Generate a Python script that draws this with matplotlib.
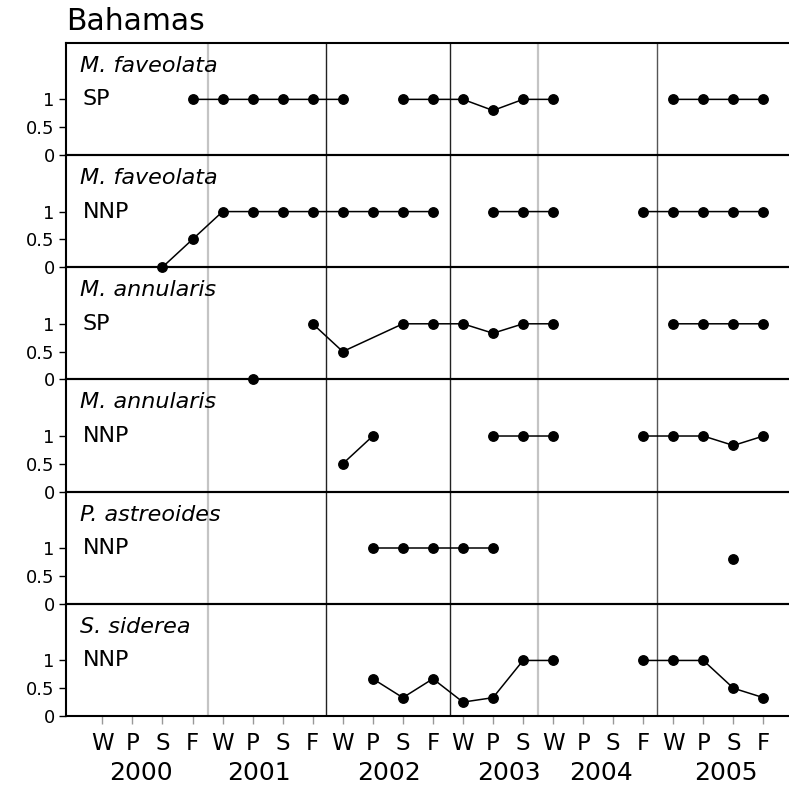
import numpy as np
import matplotlib
matplotlib.use("Agg")
import matplotlib.pyplot as plt

nan = np.nan

# Sampling seasons along the x axis (one tick per survey)
seasons = ["W", "P", "S", "F",
           "W", "P", "S", "F",
           "W", "P", "S", "F",
           "W", "P", "S",
           "W", "P", "S", "F",
           "W", "P", "S", "F"]
years = ["2000", "2001", "2002", "2003", "2004", "2005"]
year_pos = [1.29, 5.21, 9.54, 13.53, 16.6, 20.75]

species = ["M. faveolata", "M. faveolata", "M. annularis",
           "M. annularis", "P. astreoides", "S. siderea"]
groups = ["SP", "NNP", "SP", "NNP", "NNP", "NNP"]

fav_sp = [nan, nan, nan, 1, 1, 1, 1, 1, 1, nan, 1, 1, 1, 0.8, 1, 1,
          nan, nan, nan, 1, 1, 1, 1]
fav_nnp = [nan, nan, 0, 0.5, 1, 1, 1, 1, 1, 1, 1, 1, nan, 1, 1, 1,
           nan, nan, 1, 1, 1, 1, 1]
ann_sp = [nan, nan, nan, nan, nan, 0, nan, 1, 0.5, nan, 1, 1, 1, 0.83, 1, 1,
          nan, nan, nan, 1, 1, 1, 1]
ann_nnp = [nan, nan, nan, nan, nan, nan, nan, nan, 0.5, 1, nan, nan, nan, 1, 1, 1,
           nan, nan, 1, 1, 1, 0.83, 1]
ast_nnp = [nan, nan, nan, nan, nan, nan, nan, nan, nan, 1, 1, 1, 1, 1, nan, nan,
           nan, nan, nan, nan, nan, 0.8, nan]
sid_nnp = [nan, nan, nan, nan, nan, nan, nan, nan, nan, 0.67, 0.33, 0.67, 0.25, 0.33, 1, 1,
           nan, nan, 1, 1, 1, 0.5, 0.33]

panels = [fav_sp, fav_nnp, ann_sp, ann_nnp, ast_nnp, sid_nnp]
# missing surveys that the line is drawn across
bridged = [[], [], [9], [], [], []]

# year dividers: position, colour, width
dividers = [(3.53, "#c4c4c4", 1.6), (7.44, "#222222", 1.0), (11.57, "#222222", 1.0),
            (14.49, "#c4c4c4", 1.6), (18.47, "#555555", 1.0)]

W, H = 789, 788
fig = plt.figure(figsize=(W / 100, H / 100), dpi=100)
fig.patch.set_facecolor("white")
gs = fig.add_gridspec(6, 1, left=66 / W, right=1.0, top=1 - 42.7 / H,
                      bottom=1 - 716 / H, hspace=0)

x = np.arange(len(seasons))
px = 0.72  # points per pixel

for k, vals in enumerate(panels):
    ax = fig.add_subplot(gs[k])
    ax.patch.set_visible(False)
    ax.set_zorder(10 - k)
    vals = np.array(vals, dtype=float)
    keep = np.array([i not in bridged[k] for i in x])
    ax.plot(x[keep], vals[keep], color="black", lw=1.1, marker="o",
            markersize=6.8, clip_on=False, zorder=3)
    for pos, col, lw in dividers:
        ax.axvline(pos, color=col, lw=lw, zorder=1)
    ax.set_xlim(-1.21, 22.85)
    ax.set_ylim(0, 2.02)
    ax.set_yticks([0, 0.5, 1])
    ax.set_yticklabels(["0", "0.5", "1"])
    ax.tick_params(axis="y", direction="out", length=7 * px, width=1,
                   labelsize=13, pad=3)
    for side in ["top", "bottom", "left"]:
        ax.spines[side].set_linewidth(1.5)
        ax.spines[side].set_color("black")
    ax.spines["right"].set_visible(False)
    ax.annotate(species[k], xy=(0, 1), xycoords="axes fraction",
                xytext=(14 * px, -29 * px), textcoords="offset points",
                va="baseline", ha="left", style="italic", fontsize=16)
    ax.annotate(groups[k], xy=(0, 1), xycoords=("axes fraction", "data"),
                xytext=(17 * px, 0), textcoords="offset points",
                va="center", ha="left", fontsize=16)
    ax.set_xticks(x)
    if k < len(panels) - 1:
        ax.tick_params(axis="x", length=0, labelbottom=False)
    else:
        ax.set_xticklabels(seasons)
        ax.tick_params(axis="x", direction="out", length=8 * px, width=1,
                       color="#999999", labelsize=16.5, pad=6)
        for yr, pos in zip(years, year_pos):
            ax.annotate(yr, xy=(pos, 0), xycoords=("data", "axes fraction"),
                        xytext=(0, -57 * px), textcoords="offset points",
                        ha="center", va="center", fontsize=18)

fig.text(66 / W, 1 - 30 / H, "Bahamas", fontsize=21.5, ha="left", va="baseline")

fig.savefig("out.png", dpi=100)
